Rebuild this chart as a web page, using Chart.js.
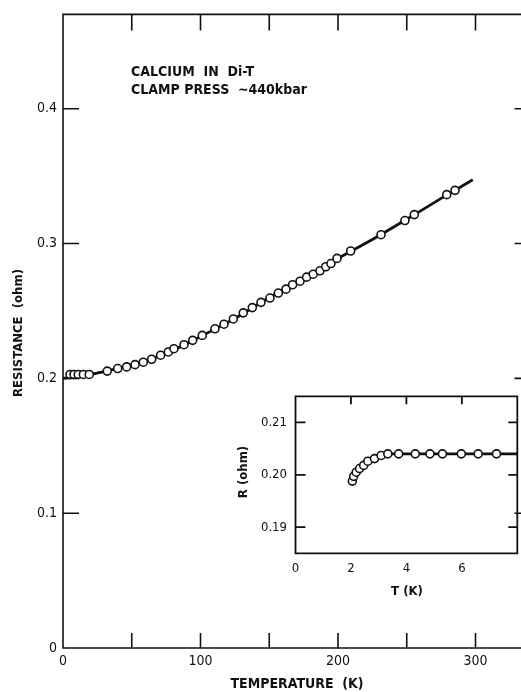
<!DOCTYPE html>
<html><head><meta charset="utf-8">
<script src="https://cdn.jsdelivr.net/npm/chart.js@4.4.0/dist/chart.umd.min.js"></script>
<style>
html,body{margin:0;padding:0;background:#fff;overflow:hidden;width:521px;height:692px;}
#wrap{position:relative;width:521px;height:692px;overflow:hidden;background:#fff;}
#main{position:absolute;left:0;top:0;}
#inset{position:absolute;left:230px;top:380px;}
</style></head><body>
<div id="wrap"><canvas id="main" width="540" height="692"></canvas><canvas id="inset" width="300" height="225"></canvas></div>
<script>
// ---- main chart data: temperature (K) vs resistance (ohm) ----
const mainT = [5.1,8.0,11.1,14.8,19.1,32.2,39.8,46.3,52.4,58.4,64.5,71.0,76.6,80.7,88.0,94.3,101.3,110.5,117.1,123.9,131.1,137.7,144.0,150.5,156.6,162.2,167.0,172.4,177.2,182.0,186.9,191.1,194.9,199.3,209.2,231.3,248.7,255.5,279.1,285.1];
const mainR = [0.2029,0.2029,0.2029,0.2029,0.2029,0.2054,0.2073,0.2085,0.2102,0.2120,0.2142,0.2172,0.2196,0.2220,0.2250,0.2282,0.2319,0.2368,0.2402,0.2441,0.2486,0.2525,0.2564,0.2596,0.2633,0.2662,0.2695,0.2721,0.2751,0.2773,0.2798,0.2828,0.2852,0.2890,0.2945,0.3066,0.3171,0.3215,0.3363,0.3395];
// fitted curve
const fitT = [0,10,20,30,50,75,100,125,150,175,200,225,250,275,298];
const fitR = [0.2000,0.2012,0.2030,0.2050,0.2100,0.2185,0.2310,0.2445,0.2600,0.2740,0.2890,0.3030,0.3180,0.3335,0.3473];
const mainXTicks = [0,50,100,150,200,250,300];
const mainXLabels = ['0','','100','','200','','300'];
const mainYTicks = [0,0.1,0.2,0.3,0.4];
const mainYLabels = ['0','0.1','0.2','0.3','0.4'];

// ---- inset data: low temperature ----
const insetT = [2.05,2.10,2.19,2.31,2.46,2.61,2.85,3.09,3.33,3.72,4.32,4.85,5.30,5.98,6.59,7.25];
const insetR = [0.1988,0.1997,0.2005,0.2012,0.2018,0.2026,0.2031,0.2037,0.2040,0.2040,0.2040,0.2040,0.2040,0.2040,0.2040,0.2040];
const insetFitT = [2.05,2.15,2.3,2.5,2.7,2.9,3.1,3.4,3.8,4.5,6,8];
const insetFitR = [0.1988,0.2002,0.2012,0.2021,0.2028,0.2033,0.2037,0.2040,0.2040,0.2040,0.2040,0.2040];
const insetXTicks = [0,2,4,6];
const insetXLabels = ['0','2','4','6'];
const insetYTicks = [0.19,0.20,0.21];
const insetYLabels = ['0.19','0.20','0.21'];

const FF = "'DejaVu Sans Condensed','DejaVu Sans',sans-serif";
const INK = '#111';
Chart.defaults.font.family = FF;
Chart.defaults.color = INK;

function pts(xs, ys){ return xs.map((x,i)=>({x:x,y:ys[i]})); }

function framePlugin(cfg){
  return {
    id:'frame'+cfg.name,
    afterDatasetsDraw(chart){
      const ctx = chart.ctx, a = chart.chartArea, sx = chart.scales.x, sy = chart.scales.y;
      ctx.save();
      ctx.strokeStyle = INK; ctx.lineWidth = cfg.lw; ctx.lineCap='square';
      ctx.beginPath();
      ctx.moveTo(a.right, a.top); ctx.lineTo(a.left, a.top); ctx.lineTo(a.left, a.bottom); ctx.lineTo(a.right, a.bottom);
      if (cfg.rightLine) ctx.lineTo(a.right, a.top);
      ctx.stroke();
      ctx.lineCap='butt';
      ctx.beginPath();
      cfg.xt.forEach(v=>{
        const px = sx.getPixelForValue(v);
        if (cfg.bottomTick) { ctx.moveTo(px, a.bottom); ctx.lineTo(px, a.bottom-cfg.bottomTick); }
        if (cfg.topTick) { ctx.moveTo(px, a.top); ctx.lineTo(px, a.top+cfg.topTick); }
      });
      cfg.yt.forEach(v=>{
        const py = sy.getPixelForValue(v);
        ctx.moveTo(a.left, py); ctx.lineTo(a.left+cfg.leftTick, py);
        ctx.moveTo(a.right, py); ctx.lineTo(a.right-cfg.rightTick, py);
      });
      ctx.stroke();
      ctx.restore();
    },
    afterDraw(chart){
      const ctx = chart.ctx;
      ctx.save();
      ctx.fillStyle = INK;
      cfg.texts.forEach(t=>{
        ctx.save();
        ctx.font = t.font;
        ctx.textAlign = t.align || 'center';
        ctx.textBaseline = 'middle';
        ctx.translate(t.x, t.y);
        if (t.rot) ctx.rotate(t.rot);
        ctx.fillText(t.s, 0, 0);
        ctx.restore();
      });
      ctx.restore();
    }
  };
}

function makeChart(id, o){
  return new Chart(document.getElementById(id), {
    type:'scatter',
    data:{datasets:[
      {data:pts(o.pT,o.pR), showLine:false, pointRadius:o.pr, pointBorderWidth:1.6,
       pointBackgroundColor:'#fff', pointBorderColor:INK, pointStyle:'circle'},
      {data:pts(o.fT,o.fR), showLine:true, pointRadius:0, borderColor:INK, borderWidth:o.flw,
       cubicInterpolationMode:'monotone', fill:false}
    ]},
    options:{
      responsive:false, animation:false, devicePixelRatio:1,
      layout:{padding:{top:o.padTop, right:o.padRight, left:0, bottom:0}},
      plugins:{legend:{display:false}, tooltip:{enabled:false}},
      scales:{
        x:{type:'linear', min:o.xmin, max:o.xmax,
           grid:{display:false, drawTicks:false}, border:{display:false},
           afterBuildTicks:(s)=>{ s.ticks = o.xt.map(v=>({value:v})); },
           afterFit:(s)=>{ s.height = o.xh; },
           ticks:{padding:o.xpad, maxRotation:0, autoSkip:false, font:{size:o.fs},
             callback:(v)=>{ const i=o.xt.indexOf(v); return i>=0? o.xl[i]:''; }}},
        y:{type:'linear', min:o.ymin, max:o.ymax,
           grid:{display:false, drawTicks:false}, border:{display:false},
           afterBuildTicks:(s)=>{ s.ticks = o.yt.map(v=>({value:v})); },
           afterFit:(s)=>{ s.width = o.yw; },
           ticks:{padding:o.ypad, autoSkip:false, font:{size:o.fs},
             callback:(v)=>{ const i=o.yt.findIndex(t=>Math.abs(t-v)<1e-9); return i>=0? o.yl[i]:''; }}}
      }
    },
    plugins:[framePlugin(o.frame)]
  });
}

makeChart('main', {
  pT:mainT, pR:mainR, fT:fitT, fR:fitR, pr:4, flw:2.8,
  padTop:10, padRight:9.5, xmin:0, xmax:340, ymin:0, ymax:0.47,
  xt:mainXTicks, xl:mainXLabels, yt:mainYTicks, yl:mainYLabels,
  xh:44, yw:63, xpad:5, ypad:6, fs:14,
  frame:{name:'main', lw:1.6, rightLine:false, xt:mainXTicks.slice(1), yt:mainYTicks.slice(1),
    bottomTick:15, topTick:16, leftTick:16, rightTick:16,
    texts:[
      {s:'CALCIUM  IN  Di-T', x:131, y:72, align:'left', font:'bold 14px '+FF},
      {s:'CLAMP PRESS  ~440kbar', x:131, y:90, align:'left', font:'bold 14px '+FF},
      {s:'TEMPERATURE  (K)', x:297, y:684, font:'bold 14px '+FF},
      {s:'RESISTANCE  (ohm)', x:19, y:333, rot:-Math.PI/2, font:'bold 13px '+FF}
    ]}
});

makeChart('inset', {
  pT:insetT, pR:insetR, fT:insetFitT, fR:insetFitR, pr:4, flw:2.6,
  padTop:10.7, padRight:12.7, xmin:0, xmax:8, ymin:0.185, ymax:0.215,
  xt:insetXTicks, xl:insetXLabels, yt:insetYTicks, yl:insetYLabels,
  xh:51.7, yw:65.5, xpad:8, ypad:8.5, fs:13,
  frame:{name:'inset', lw:1.8, rightLine:true, xt:[2,4,6], yt:insetYTicks,
    bottomTick:0, topTick:8, leftTick:10, rightTick:9,
    texts:[
      {s:'T (K)', x:177, y:212, font:'bold 13px '+FF},
      {s:'R (ohm)', x:14, y:92, rot:-Math.PI/2, font:'bold 13px '+FF}
    ]}
});
</script>
</body></html>
